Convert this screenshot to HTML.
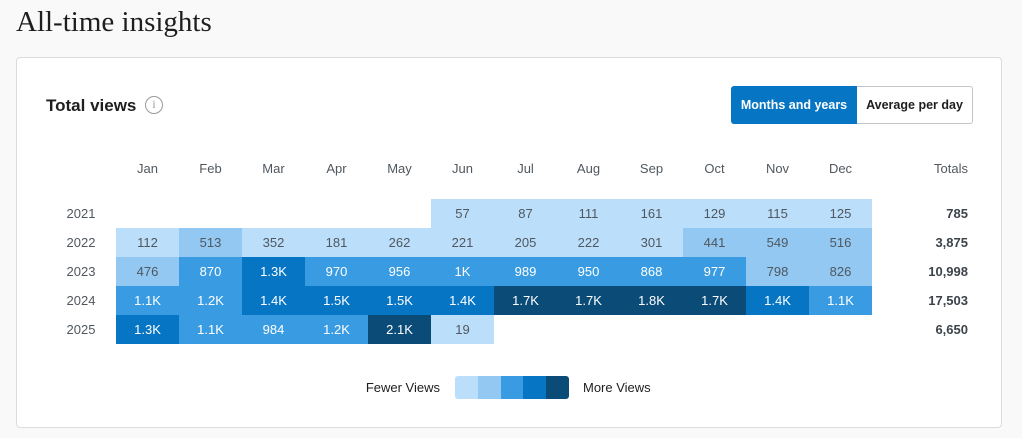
<!DOCTYPE html>
<html><head><meta charset="utf-8"><style>
*{margin:0;padding:0;box-sizing:border-box}
body{width:1022px;height:438px;background:#f9f9f9;font-family:"Liberation Sans",sans-serif;position:relative;overflow:hidden;color:#1e1e1e}
.t{position:absolute;left:16px;top:6px;font-family:"Liberation Serif",serif;font-size:29px;color:#1e1e1e}
.card{position:absolute;left:16px;top:57px;width:986px;height:371px;background:#fff;border:1px solid #dcdcde;border-radius:4px}
.a{position:absolute;white-space:nowrap}
.h{font-size:17px;font-weight:bold;left:46px;top:96px}
.info{left:145px;top:96px;width:18px;height:18px;border:1.5px solid #999;border-radius:50%;font-size:12px;color:#999;text-align:center;line-height:15px;font-family:"Liberation Serif",serif}
.b1{left:731px;top:86px;width:126px;height:38px;background:#0675c4;color:#fff;font-size:12.5px;font-weight:bold;line-height:38px;text-align:center;border-radius:3px 0 0 3px}
.b2{left:857px;top:86px;width:116px;height:38px;background:#fff;border:1px solid #c3c4c7;border-left:none;font-size:12.5px;font-weight:bold;line-height:36px;text-align:center;border-radius:0 3px 3px 0}
.m{font-size:13px;color:#50575e;top:161px;width:63px;text-align:center}
.y{font-size:13px;color:#50575e;left:56px;width:50px;text-align:center}
.tot{font-size:13px;font-weight:bold;color:#3c434a;right:54px;text-align:right}
.c{width:63px;height:29px;line-height:29px;text-align:center;font-size:13px}
.l1{background:#bbdefb;color:#50575e}.l2{background:#92c8f2;color:#50575e}.l3{background:#399ce3;color:#fff}.l4{background:#0675c4;color:#fff}.l5{background:#0a4b78;color:#fff}
</style></head><body>
<div class="t">All-time insights</div>
<div class="card"></div>
<div class="a h">Total views</div>
<div class="a info">i</div>
<div class="a b1">Months and years</div>
<div class="a b2">Average per day</div>
<div class="a" style="right:54px;top:161px;font-size:13px;color:#50575e">Totals</div>
<div id="g"></div>
<div class="a" style="right:582px;top:380px;font-size:13px;color:#1e1e1e">Fewer Views</div>
<div class="a" style="left:455px;top:376px;width:114px;height:23px;border-radius:3px;overflow:hidden;display:flex">
<div class="l1" style="flex:1"></div><div class="l2" style="flex:1"></div><div class="l3" style="flex:1"></div><div class="l4" style="flex:1"></div><div class="l5" style="flex:1"></div></div>
<div class="a" style="left:583px;top:380px;font-size:13px;color:#1e1e1e">More Views</div>
<script>
var M=["Jan","Feb","Mar","Apr","May","Jun","Jul","Aug","Sep","Oct","Nov","Dec"];
var D=[["2021","785",[null,null,null,null,null,["57",1],["87",1],["111",1],["161",1],["129",1],["115",1],["125",1]]],
["2022","3,875",[["112",1],["513",2],["352",1],["181",1],["262",1],["221",1],["205",1],["222",1],["301",1],["441",2],["549",2],["516",2]]],
["2023","10,998",[["476",2],["870",3],["1.3K",4],["970",3],["956",3],["1K",3],["989",3],["950",3],["868",3],["977",3],["798",2],["826",2]]],
["2024","17,503",[["1.1K",3],["1.2K",3],["1.4K",4],["1.5K",4],["1.5K",4],["1.4K",4],["1.7K",5],["1.7K",5],["1.8K",5],["1.7K",5],["1.4K",4],["1.1K",3]]],
["2025","6,650",[["1.3K",4],["1.1K",3],["984",3],["1.2K",3],["2.1K",5],["19",1],null,null,null,null,null,null]]];
var h="";M.forEach(function(m,i){h+='<div class="a m" style="left:'+(116+i*63)+'px">'+m+'</div>'});
D.forEach(function(r,j){var top=199+j*29;
h+='<div class="a y" style="top:'+(top+7)+'px">'+r[0]+'</div>';
h+='<div class="a tot" style="top:'+(top+7)+'px">'+r[1]+'</div>';
r[2].forEach(function(c,i){if(c)h+='<div class="a c l'+c[1]+'" style="left:'+(116+i*63)+'px;top:'+top+'px">'+c[0]+'</div>'})});
document.getElementById("g").innerHTML=h;
</script>
</body></html>
